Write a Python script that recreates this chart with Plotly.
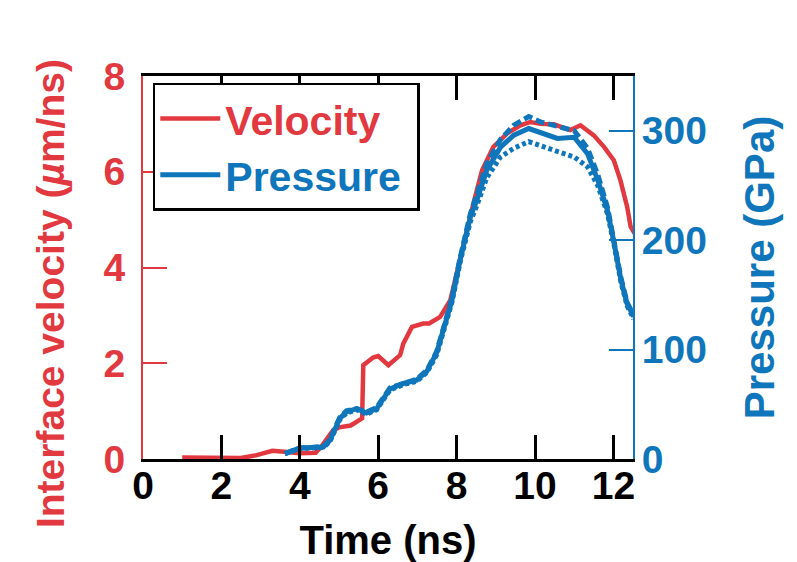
import plotly.graph_objects as go

# velocity (um/ns) vs time (ns)
time_v = [1.0, 1.5, 2.0, 2.5, 2.9, 3.3, 3.6, 4.0, 4.4, 4.55, 4.85, 5.0, 5.3, 5.55, 5.59, 5.62,
          5.87, 6.0, 6.26, 6.56, 6.64, 6.86, 7.15, 7.3, 7.58, 7.84, 8.0, 8.22, 8.43, 8.65, 8.94,
          9.29, 9.63, 9.88, 10.14, 10.48, 10.9, 11.16, 11.5, 11.76, 12.01, 12.18, 12.35, 12.44, 12.55]
velocity = [0.03, 0.02, 0.03, 0.02, 0.08, 0.17, 0.15, 0.12, 0.13, 0.26, 0.6, 0.66, 0.7, 0.81, 0.85, 1.96,
            2.12, 2.15, 1.96, 2.17, 2.41, 2.76, 2.83, 2.83, 2.97, 3.32, 3.88, 4.64, 5.34, 6.03, 6.52,
            6.8, 6.97, 7.04, 7.0, 6.99, 6.87, 6.97, 6.76, 6.52, 6.24, 5.82, 5.27, 4.85, 4.7]

# pressure (GPa) vs time (ns), three estimates
time_p = [3.62, 4.0, 4.3, 4.6, 4.77, 5.02, 5.19, 5.45, 5.7, 5.96, 6.3, 6.64, 6.98, 7.24, 7.49, 7.66,
          7.88, 8.09, 8.35, 8.52, 8.77, 9.12, 9.46, 9.84, 10.14, 10.57, 11.0, 11.34, 11.6, 11.85,
          12.02, 12.19, 12.35, 12.52]
p_solid = [5, 10, 10.5, 11, 17, 37, 43, 46, 42, 46, 64, 69, 72, 80, 97, 118,
           145, 182, 221, 237, 264, 285, 296, 302, 298, 293, 294, 279, 255, 227,
           197, 164, 142, 130]
p_dash = [5, 10, 10.5, 11.5, 18, 38, 44, 46, 43, 47, 65, 69, 73, 81, 98, 119,
          147, 184, 224, 242, 270, 292, 305, 313, 308, 304, 300, 284, 260, 230,
          199, 166, 143, 131]
p_dot = [5, 9.5, 10, 10.5, 16, 36, 42, 45, 41, 45, 63, 68, 71, 79, 95, 116,
         143, 180, 217, 232, 257, 276, 284, 290, 286, 281, 276, 267, 250, 224,
         195, 162, 140, 128]

RED = "#e2383f"
BLUE = "#0f76bb"
FONT = "Liberation Sans, Arial, Helvetica, sans-serif"

fig = go.Figure()
fig.add_trace(go.Scatter(x=time_p, y=p_dot, yaxis="y2", mode="lines", showlegend=False,
                         line=dict(color=BLUE, width=5, dash="4px,3px")))
fig.add_trace(go.Scatter(x=time_p, y=p_dash, yaxis="y2", mode="lines", showlegend=False,
                         line=dict(color=BLUE, width=5, dash="9px,4px")))
fig.add_trace(go.Scatter(x=time_v, y=velocity, mode="lines",
                         name="<span style='color:%s'>Velocity</span>" % RED,
                         line=dict(color=RED, width=4.5)))
fig.add_trace(go.Scatter(x=time_p, y=p_solid, yaxis="y2", mode="lines",
                         name="<span style='color:%s'>Pressure&nbsp;</span>" % BLUE,
                         line=dict(color=BLUE, width=5)))

# page has an 8px body margin, so the figure is a little smaller than the window
fig.update_layout(
    width=789, height=554,
    margin=dict(l=135, r=164, t=68, b=103),
    paper_bgcolor="white", plot_bgcolor="white",
    font=dict(family=FONT, size=39, weight="bold"),
    xaxis=dict(range=[0, 12.5], tickvals=[0, 2, 4, 6, 8, 10, 12], automargin=False,
               showgrid=False, zeroline=False, showline=True, linecolor="black", linewidth=2.5,
               mirror="ticks", ticks="inside", ticklen=24, tickwidth=2.5, tickcolor="black",
               ticklabelstandoff=-10,
               tickfont=dict(color="black", size=39, weight="bold"),
               title=dict(text="Time (ns)", font=dict(color="black", size=40, weight="bold"),
                          standoff=24)),
    yaxis=dict(range=[0, 8], tickvals=[0, 2, 4, 6, 8], automargin=False,
               showgrid=False, zeroline=False, showline=True, linecolor=RED, linewidth=2,
               ticks="inside", ticklen=24, tickwidth=2, tickcolor=RED, ticklabelstandoff=8,
               tickfont=dict(color=RED, size=39, weight="bold")),
    yaxis2=dict(range=[0, 350], tickvals=[0, 100, 200, 300], overlaying="y", side="right",
                automargin=False,
                showgrid=False, zeroline=False, showline=True, linecolor=BLUE, linewidth=2,
                ticks="inside", ticklen=24, tickwidth=2, tickcolor=BLUE, ticklabelstandoff=-1,
                tickfont=dict(color=BLUE, size=39, weight="bold"),
                title=dict(text="Pressure (GPa)", font=dict(color=BLUE, size=42, weight="bold"),
                           standoff=39)),
    legend=dict(x=0.02, y=0.982, xanchor="left", yanchor="top",
                bordercolor="black", borderwidth=2.5, bgcolor="white",
                font=dict(size=41, weight="bold"), itemwidth=60,
                tracegroupgap=0),
    annotations=[dict(text="Interface velocity (<i>µ</i>m/ns)", textangle=-90,
                      xref="paper", yref="paper", x=-0.19, y=0.433,
                      xanchor="center", yanchor="middle", showarrow=False,
                      font=dict(color=RED, size=39, weight="bold"))],
)

fig.write_html("out.html")
